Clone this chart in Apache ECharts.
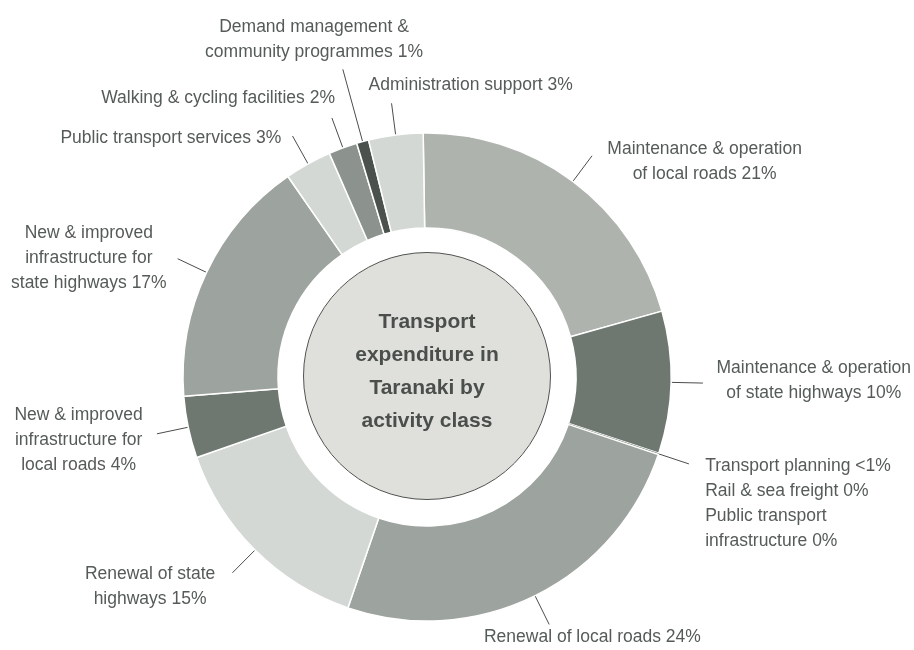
<!DOCTYPE html>
<html>
<head>
<meta charset="utf-8">
<title>Transport expenditure in Taranaki by activity class</title>
<script src="https://cdn.jsdelivr.net/npm/echarts@6/dist/echarts.min.js"></script>
<style>
    html, body { margin: 0; padding: 0; background: #fff; }
    #chart { width: 914px; height: 650px; }
</style>
</head>
<body>
<div id="chart"></div>
<script>
// activity classes, clockwise from 12 o'clock
var categories = [
    'Maintenance & operation\nof local roads',
    'Maintenance & operation\nof state highways',
    'Transport planning',
    'Renewal of local roads',
    'Renewal of state\nhighways',
    'New & improved\ninfrastructure for\nlocal roads',
    'New & improved\ninfrastructure for\nstate highways',
    'Public transport services',
    'Walking & cycling facilities',
    'Demand management &\ncommunity programmes',
    'Administration support'
];
// share of spend (%)
var shares = [20.9, 9.4, 0.1, 25.1, 14.4, 4.1, 16.6, 3.1, 1.9, 0.8, 3.6];
// the rounded figures printed on the chart
var shareLabels = ['21%', '10%', '<1%', '24%', '15%', '4%', '17%', '3%', '2%', '1%', '3%'];
// classes with no spending, listed under transport planning
var zeroCategories = ['Rail & sea freight 0%', 'Public transport\ninfrastructure 0%'];
var centreTitle = 'Transport\nexpenditure in\nTaranaki by\nactivity class';

(function () {
    'use strict';

    var font = '"Liberation Sans", Arial, sans-serif';
    var colours = ['#aeb3ae', '#6e7870', '#6e7870', '#9da39e', '#d4d8d4', '#6e7870',
        '#9da39e', '#d4d8d4', '#8c928d', '#4b524d', '#d4d8d4'];
    // where each label sits relative to the end of its leader line
    var labelOffsets = [
        [112.6, 5.8, 'center'], [110.8, -2.6, 'center'], [16.2, -10.1, 'left'], [43.2, 13.1, 'center'],
        [-82.4, 13.7, 'center'], [-78.3, 6.2, 'center'], [-88.8, -0.7, 'center'], [-121.7, 2.4, 'center'],
        [-113.8, -19.5, 'center'], [-28.8, -30.1, 'center'], [79.1, -18.3, 'center']
    ];

    var pieData = [];
    for (var i = 0; i < categories.length; i++) {
        var text = categories[i] + ' ' + shareLabels[i];
        if (i === 2) {
            text += '\n' + zeroCategories.join('\n');
        }
        pieData.push({
            name: categories[i],
            value: shares[i],
            itemStyle: i === 2 ? { color: colours[i], borderWidth: 0 } : { color: colours[i] },
            label: { formatter: text },
            labelLine: { length: i === 9 ? 75 : 32 }
        });
    }

    var chart = echarts.init(document.getElementById('chart'));

    chart.setOption({
        animation: false,
        series: [{
            type: 'pie',
            radius: [149, 244],
            center: [427, 377],
            startAngle: 90.9,
            clockwise: true,
            avoidLabelOverlap: false,
            emphasis: { disabled: true },
            itemStyle: { borderColor: '#fff', borderWidth: 1.5 },
            label: {
                show: true,
                position: 'outside',
                fontFamily: font,
                fontSize: 17.5,
                lineHeight: 25,
                color: '#555b57'
            },
            labelLine: {
                show: true,
                length2: 0,
                smooth: false,
                lineStyle: { color: '#4a4d4b', width: 1 }
            },
            labelLayout: function (params) {
                var pts = params.labelLinePoints;
                var end = pts[pts.length - 1];
                var off = labelOffsets[params.dataIndex];
                return {
                    x: end[0] + off[0],
                    y: end[1] + off[1],
                    align: off[2],
                    verticalAlign: off[2] === 'left' ? 'top' : 'middle',
                    labelLinePoints: pts.map(function (p) { return p.slice(); })
                };
            },
            data: pieData
        }, {
            type: 'pie',
            radius: [0, 123.5],
            center: [427, 376],
            silent: true,
            emphasis: { disabled: true },
            itemStyle: { color: '#dfe0dc', borderColor: '#4f5450', borderWidth: 1 },
            label: {
                show: true,
                position: 'center',
                offset: [0, -4],
                formatter: centreTitle,
                fontFamily: font,
                fontWeight: 'bold',
                fontSize: 21,
                lineHeight: 33,
                color: '#4a4f4b'
            },
            labelLine: { show: false },
            data: [{ name: 'title', value: 1 }]
        }]
    });
}());
</script>
</body>
</html>
